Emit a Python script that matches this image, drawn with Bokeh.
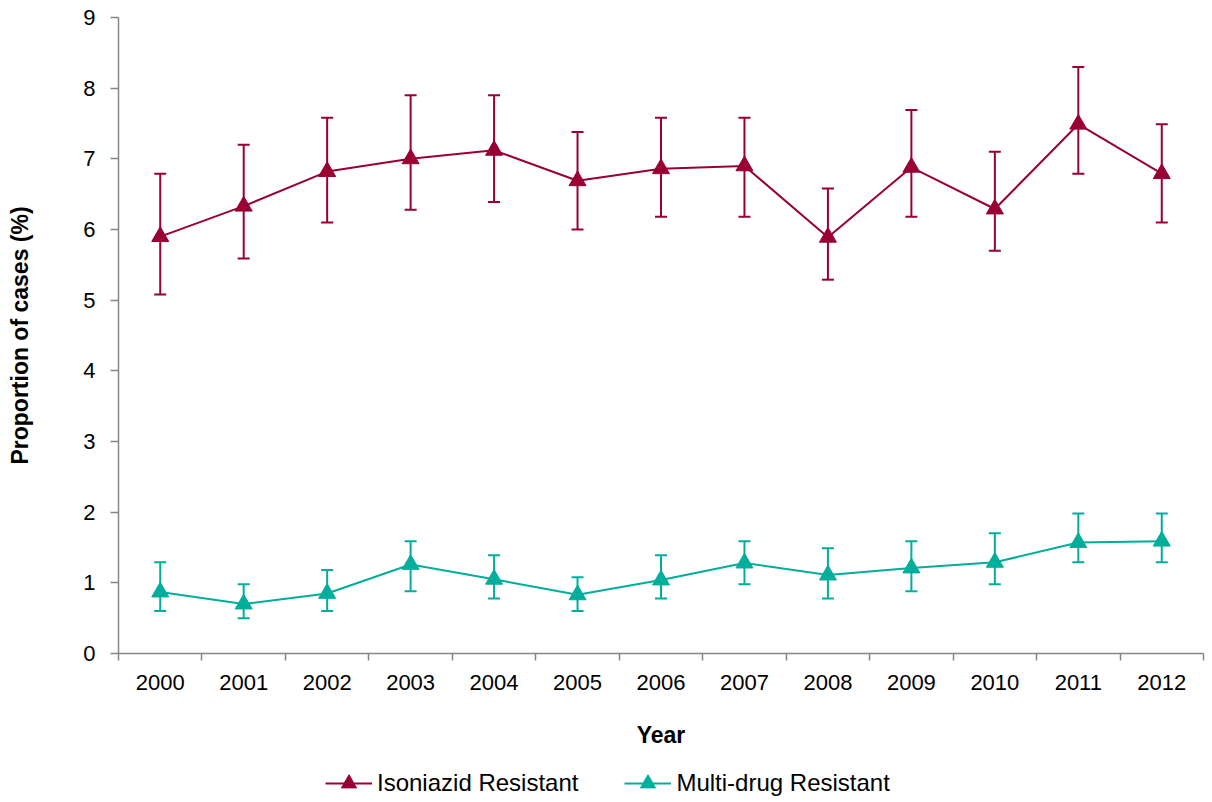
from bokeh.plotting import figure
from bokeh.layouts import column
from bokeh.models import (Range1d, FixedTicker, PrintfTickFormatter, Whisker, TeeHead,
                          ColumnDataSource, Legend, LegendItem)
from bokeh.embed import file_html
from bokeh.resources import INLINE

years = [2000, 2001, 2002, 2003, 2004, 2005, 2006, 2007, 2008, 2009, 2010, 2011, 2012]

inh = [5.9, 6.33, 6.82, 7.0, 7.12, 6.69, 6.86, 6.9, 5.89, 6.88, 6.29, 7.49, 6.79]
inh_low = [5.08, 5.59, 6.1, 6.28, 6.39, 6.0, 6.18, 6.18, 5.29, 6.18, 5.7, 6.79, 6.1]
inh_high = [6.79, 7.2, 7.58, 7.9, 7.9, 7.38, 7.58, 7.58, 6.58, 7.69, 7.1, 8.3, 7.49]

mdr = [0.87, 0.7, 0.85, 1.26, 1.05, 0.83, 1.04, 1.28, 1.11, 1.21, 1.29, 1.57, 1.59]
mdr_low = [0.6, 0.5, 0.6, 0.88, 0.78, 0.6, 0.78, 0.98, 0.78, 0.88, 0.98, 1.29, 1.29]
mdr_high = [1.29, 0.98, 1.18, 1.59, 1.39, 1.08, 1.39, 1.59, 1.49, 1.59, 1.7, 1.98, 1.98]

y_ticks = [0, 1, 2, 3, 4, 5, 6, 7, 8, 9]

series_names = ["Isoniazid Resistant", "Multi-drug Resistant"]
colors = ["#990033", "#00AE9B"]

FONT = "Liberation Sans"
AXIS_GREY = "#868686"
W = 1210

p = figure(width=W, height=759,
           x_range=Range1d(years[0] - 0.5, years[-1] + 0.5),
           y_range=Range1d(0, 9),
           output_backend="svg", toolbar_location=None,
           min_border_left=118, min_border_right=7, min_border_top=17,
           min_border_bottom=106)

p.outline_line_color = None
p.xgrid.grid_line_color = None
p.ygrid.grid_line_color = None

# strip beneath the chart that holds the legend
leg_fig = figure(width=W, height=43, x_range=Range1d(0, 1), y_range=Range1d(0, 1),
                 output_backend="svg", toolbar_location=None,
                 min_border_left=0, min_border_right=0, min_border_top=0, min_border_bottom=0)
leg_fig.axis.visible = False
leg_fig.xgrid.grid_line_color = None
leg_fig.ygrid.grid_line_color = None
leg_fig.outline_line_color = None

items = []
for name, col, vals, lo, hi in [(series_names[0], colors[0], inh, inh_low, inh_high),
                                (series_names[1], colors[1], mdr, mdr_low, mdr_high)]:
    src = ColumnDataSource(dict(x=years, y=vals, lower=lo, upper=hi))
    w = Whisker(base="x", lower="lower", upper="upper", source=src,
                line_color=col, line_width=2,
                upper_head=TeeHead(size=12, line_color=col, line_width=2),
                lower_head=TeeHead(size=12, line_color=col, line_width=2))
    p.add_layout(w)
    p.line("x", "y", source=src, line_color=col, line_width=2)
    p.scatter("x", "y", source=src, marker="triangle", size=17,
              fill_color=col, line_color=col)
    # legend swatches: same data, outside the strip's visible range
    lr = leg_fig.line("x", "y", source=src, line_color=col, line_width=2)
    sr = leg_fig.scatter("x", "y", source=src, marker="triangle", size=17,
                         fill_color=col, line_color=col)
    items.append(LegendItem(label=name, renderers=[lr, sr]))

# x axis
xa = p.xaxis[0]
xa.ticker = FixedTicker(ticks=years, minor_ticks=[y - 0.5 for y in years] + [years[-1] + 0.5])
xa.formatter = PrintfTickFormatter(format="%d")
xa.major_tick_line_color = None
xa.minor_tick_line_color = AXIS_GREY
xa.minor_tick_line_width = 1.5
xa.minor_tick_out = 7
xa.minor_tick_in = 0
xa.axis_line_color = AXIS_GREY
xa.axis_line_width = 1.5
xa.major_label_text_font = FONT
xa.major_label_text_font_size = "22px"
xa.major_label_text_color = "black"
xa.major_label_standoff = 14
xa.axis_label = "Year"
xa.axis_label_text_font = FONT
xa.axis_label_text_font_size = "23px"
xa.axis_label_text_font_style = "bold"
xa.axis_label_text_color = "black"
xa.axis_label_standoff = 29

# y axis
ya = p.yaxis[0]
ya.ticker = FixedTicker(ticks=y_ticks, minor_ticks=[])
ya.major_tick_line_color = AXIS_GREY
ya.major_tick_line_width = 1.5
ya.major_tick_out = 8
ya.major_tick_in = 0
ya.axis_line_color = AXIS_GREY
ya.axis_line_width = 1.5
ya.major_label_text_font = FONT
ya.major_label_text_font_size = "22px"
ya.major_label_text_color = "black"
ya.major_label_standoff = 15
ya.axis_label = "Proportion of cases (%)"
ya.axis_label_text_font = FONT
ya.axis_label_text_font_size = "23px"
ya.axis_label_text_font_style = "bold"
ya.axis_label_text_color = "black"
ya.axis_label_standoff = 47

legend = Legend(items=items, orientation="horizontal", location=(207, 0),
                label_text_font=FONT, label_text_font_size="24px",
                label_text_color="black", glyph_width=47, glyph_height=38,
                label_standoff=5, spacing=46, padding=0, margin=0,
                border_line_color=None, background_fill_alpha=0)
leg_fig.add_layout(legend, "center")

layout = column(p, leg_fig, spacing=0)
open("out.html", "w").write(file_html(layout, INLINE))
